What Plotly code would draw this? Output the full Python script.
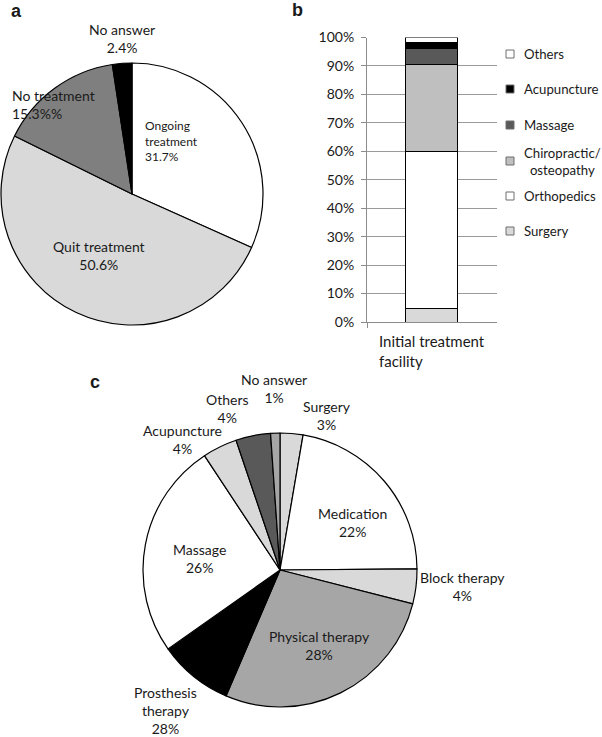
import plotly.graph_objects as go

W, H = 602, 737
FONT = "Lato"
TXT = "#1a1a1a"

# ---------------- data ----------------
# Panel a
a_labels = ["Ongoing treatment", "Quit treatment", "No treatment", "No answer"]
a_values = [31.7, 50.6, 15.3, 2.4]
a_colors = ["#ffffff", "#d9d9d9", "#7f7f7f", "#000000"]
a_texts = ["Ongoing<br>treatment<br>31.7%", "Quit treatment<br>50.6%",
           "No treatment<br>15.3%%", "No answer<br>2.4%"]

# Panel b
b_category = ["Initial treatment facility"]
b_series = ["Surgery", "Orthopedics", "Chiropractic/<br>osteopathy", "Massage", "Acupuncture", "Others"]
b_values = [4.7, 55.3, 30.5, 5.6, 2.0, 1.9]
b_colors = ["#d9d9d9", "#ffffff", "#bfbfbf", "#595959", "#000000", "#ffffff"]
b_ticks = [0, 10, 20, 30, 40, 50, 60, 70, 80, 90, 100]
b_ticktext = ["0%", "10%", "20%", "30%", "40%", "50%", "60%", "70%", "80%", "90%", "100%"]

# Panel c
c_labels = ["Surgery", "Medication", "Block therapy", "Physical therapy", "Prosthesis therapy",
            "Massage", "Acupuncture", "Others", "No answer"]
c_values = [2.7, 22.2, 4.1, 27.5, 8.8, 25.5, 4.1, 4.1, 1.1]
c_colors = ["#d9d9d9", "#ffffff", "#d9d9d9", "#a6a6a6", "#000000",
            "#ffffff", "#d9d9d9", "#595959", "#a6a6a6"]
c_texts = ["Surgery<br>3%", "Medication<br>22%", "Block therapy<br>4%", "Physical therapy<br>28%",
           "Prosthesis<br>therapy<br>28%", "Massage<br>26%", "Acupuncture<br>4%", "Others<br>4%",
           "No answer<br>1%"]


def px(x):
    return x / W


def py(y):
    return 1 - y / H


fig = go.Figure()

# ---- pie a ----
fig.add_trace(go.Pie(
    labels=a_labels, values=a_values, sort=False, direction="clockwise", rotation=0,
    marker=dict(colors=a_colors, line=dict(color="#000000", width=1.2)),
    textinfo="none", hoverinfo="label+percent", showlegend=False,
    domain=dict(x=[px(1), px(263)], y=[py(325), py(63)]),
))

# ---- stacked bar b ----
for name, val, col in zip(b_series, b_values, b_colors):
    fig.add_trace(go.Bar(
        x=b_category, y=[val], name=name, width=0.4,
        marker=dict(color=col, line=dict(color="#000000", width=1)),
        showlegend=False, xaxis="x", yaxis="y",
    ))

# ---- pie c ----
fig.add_trace(go.Pie(
    labels=c_labels, values=c_values, sort=False, direction="clockwise", rotation=0,
    marker=dict(colors=c_colors, line=dict(color="#000000", width=1.2)),
    textinfo="none", hoverinfo="label+percent", showlegend=False,
    domain=dict(x=[px(143), px(417)], y=[py(707), py(433)]),
))

annotations = []


def ann(text, x, y, size=14, xanchor="center", align="center", family=FONT):
    annotations.append(dict(
        text=text, x=px(x), y=py(y), xref="paper", yref="paper",
        xanchor=xanchor, yanchor="middle", align=align, showarrow=False,
        font=dict(family=family, size=size, color=TXT),
    ))


# panel letters
ann("<b>a</b>", 16, 11, size=18, family="Liberation Sans")
ann("<b>b</b>", 297, 10, size=18, family="Liberation Sans")
ann("<b>c</b>", 95, 382, size=18, family="Liberation Sans")

# pie a labels
a_pos = [(143, 141, "left", 12), (99, 255.5, "center", 14), (10, 104, "left", 14), (122, 39, "center", 14)]
for t, (x, y, anc, sz) in zip(a_texts, a_pos):
    ann(t, x, y, size=sz, xanchor=anc, align="left" if anc == "left" else "center")

# pie c labels
c_pos = [(327, 415.5), (352, 522), (462, 586.5), (319, 645.5), (166, 710),
         (199, 558), (182, 439.5), (227, 408), (274, 388)]
for t, (x, y) in zip(c_texts, c_pos):
    ann(t, x, y, size=14)

# bar x label (left aligned lines)
ann("Initial treatment<br>facility", 431.5, 351, size=15, align="left")

# manual legend for panel b (reversed order, Others on top)
shapes = []
leg_y = [231, 196, 161, 125, 89, 54]
for name, col, yy in zip(b_series, b_colors, leg_y):
    shapes.append(dict(type="rect", xref="paper", yref="paper",
                       x0=px(506), x1=px(514), y0=py(yy + 4), y1=py(yy - 4),
                       fillcolor=col, line=dict(color="#6f6f6f", width=1)))
    ann(name, 522, yy, size=13.2, xanchor="left", align="center")

fig.update_layout(
    width=W, height=H,
    margin=dict(l=0, r=0, t=0, b=0, autoexpand=False),
    paper_bgcolor="#ffffff", plot_bgcolor="#ffffff",
    font=dict(family=FONT, size=14, color=TXT),
    barmode="stack", bargap=0,
    xaxis=dict(domain=[px(367), px(497)], type="category", range=[-0.5, 0.5], automargin=False,
               showticklabels=False, showline=True, linecolor="#8c8c8c", linewidth=1,
               ticks="outside", tickson="boundaries", ticklen=5, tickcolor="#8c8c8c",
               showgrid=False, zeroline=False, fixedrange=True),
    yaxis=dict(domain=[py(322), py(37.5)], range=[0, 100], tickvals=b_ticks, ticktext=b_ticktext,
               automargin=False, showline=True, linecolor="#8c8c8c", linewidth=1,
               ticks="outside", ticklen=5, tickcolor="#8c8c8c",
               showgrid=True, gridcolor="#9a9a9a", gridwidth=1, zeroline=False,
               tickfont=dict(family=FONT, size=14, color=TXT), ticklabelstandoff=4,
               fixedrange=True),
    annotations=annotations,
    shapes=shapes,
)

fig.write_html("out.html", config={"displayModeBar": False},
               post_script="document.body.style.margin='0';")
